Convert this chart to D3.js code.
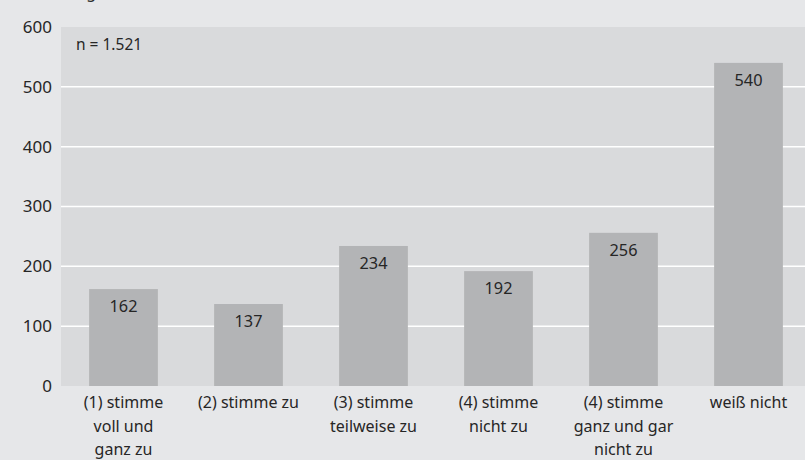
<!DOCTYPE html>
<html>
<head>
<meta charset="utf-8">
<script src="https://cdn.jsdelivr.net/npm/d3@7"></script>
<style>
  body { margin: 0; background: #e6e7e9; }
  svg { display: block; font-family: "Noto Sans", "Open Sans", sans-serif; }
</style>
</head>
<body>
<div id="chart"></div>
<script>
// data
const categories = [
    ["(1) stimme", "voll und", "ganz zu"],
    ["(2) stimme zu"],
    ["(3) stimme", "teilweise zu"],
    ["(4) stimme", "nicht zu"],
    ["(4) stimme", "ganz und gar", "nicht zu"],
    ["weiß nicht"]
];
const values = [162, 137, 234, 192, 256, 540];
const yTicks = [0, 100, 200, 300, 400, 500, 600];
const note = "n = 1.521";

const width = 805;
const height = 460;
const margin = { top: 27, right: -6, bottom: 74, left: 61 };

var svg = d3.select('#chart')
    .append('svg')
    .attr('width', width)
    .attr('height', height);

svg.append('rect')
    .attr('width', width)
    .attr('height', height)
    .attr('fill', '#e6e7e9');

var x = d3.scaleBand()
    .domain(d3.range(values.length))
    .range([margin.left, width - margin.right])
    .paddingInner(0.45)
    .paddingOuter(0.225);

var y = d3.scaleLinear()
    .domain([0, 600])
    .range([height - margin.bottom, margin.top]);

// heading, cut off at the very top as in the original
svg.append('text')
    .attr('x', 46)
    .attr('y', -2)
    .style('font-size', '16px')
    .attr('fill', '#2b2b2b')
    .text('Häufigkeit');

// plot area
svg.append('rect')
    .attr('x', margin.left)
    .attr('y', y(600))
    .attr('width', width - margin.left)
    .attr('height', y(0) - y(600))
    .attr('fill', '#d9dadc');

// grid lines
svg.selectAll('line.grid')
    .data(yTicks.filter(d => d > 0 && d < 600))
    .enter()
    .append('line')
    .attr('class', 'grid')
    .attr('x1', margin.left)
    .attr('x2', width)
    .attr('y1', d => y(d))
    .attr('y2', d => y(d))
    .attr('stroke', '#ffffff')
    .attr('stroke-width', 1.5);

// y axis labels
svg.selectAll('text.ytick')
    .data(yTicks)
    .enter()
    .append('text')
    .attr('class', 'ytick')
    .attr('x', 52)
    .attr('y', d => y(d))
    .attr('dy', '0.35em')
    .attr('text-anchor', 'end')
    .style('font-size', '17px')
    .attr('fill', '#262626')
    .text(d => d);

// bars
svg.selectAll('rect.bar')
    .data(values)
    .enter()
    .append('rect')
    .attr('class', 'bar')
    .attr('x', (d, i) => x(i))
    .attr('y', d => y(d))
    .attr('width', x.bandwidth())
    .attr('height', d => y(0) - y(d))
    .attr('fill', '#b3b4b6');

// value labels inside bars
svg.selectAll('text.value')
    .data(values)
    .enter()
    .append('text')
    .attr('class', 'value')
    .attr('x', (d, i) => x(i) + x.bandwidth() / 2)
    .attr('y', d => y(d) + 23)
    .attr('text-anchor', 'middle')
    .style('font-size', '16.3px')
    .attr('fill', '#262626')
    .text(d => d);

// category labels
var cat = svg.selectAll('text.cat')
    .data(categories)
    .enter()
    .append('text')
    .attr('class', 'cat')
    .attr('text-anchor', 'middle')
    .style('font-size', '16px')
    .attr('fill', '#262626');

cat.selectAll('tspan')
    .data((d, i) => d.map(line => ({ line: line, i: i })))
    .enter()
    .append('tspan')
    .attr('x', d => x(d.i) + x.bandwidth() / 2)
    .attr('y', (d, j) => y(0) + 22 + j * 23.5)
    .text(d => d.line);

// sample size note
svg.append('text')
    .attr('x', 76)
    .attr('y', 50)
    .style('font-size', '15.5px')
    .attr('fill', '#262626')
    .text(note);
</script>
</body>
</html>
